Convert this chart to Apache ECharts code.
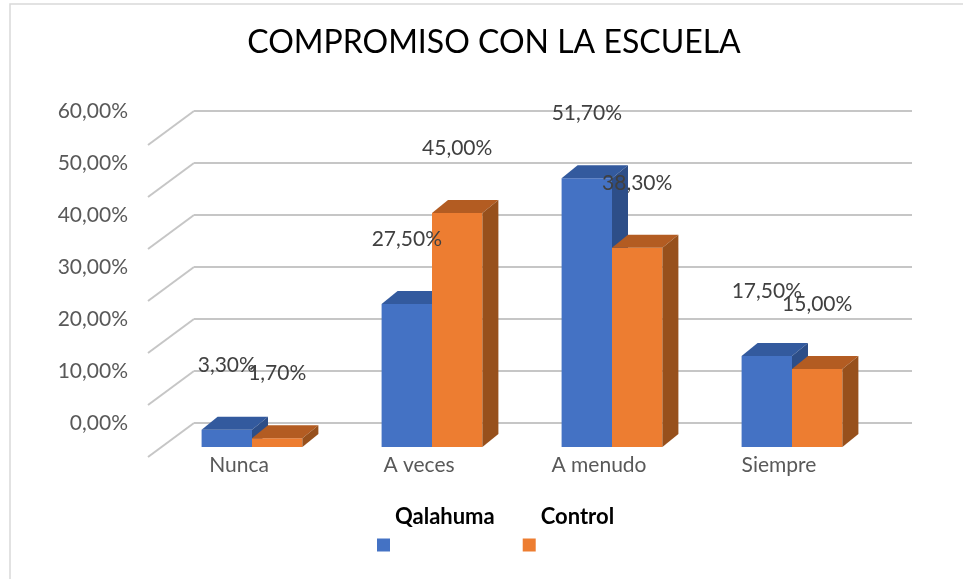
<!DOCTYPE html>
<html>
<head>
<meta charset="utf-8">
<script src="https://cdn.jsdelivr.net/npm/echarts@6/dist/echarts.min.js"></script>
<style>
  html, body { margin: 0; padding: 0; background: #fff; }
  #chart { width: 963px; height: 579px; }
</style>
</head>
<body>
<div id="chart"></div>
<script>
// categories and values (percent)
let categories = ['Nunca', 'A veces', 'A menudo', 'Siempre']
let qalahuma = [3.3, 27.5, 51.7, 17.5]
let control = [1.7, 45.0, 38.3, 15.0]
let yTicks = [0, 10, 20, 30, 40, 50, 60]

let FONT = 'Lato, "Liberation Sans", sans-serif'
let DEPTH_X = 16
let DEPTH_Y = -13

function pct (v) {
  return v.toFixed(2).replace('.', ',') + '%'
}

/**
 * draws one 3D column: front, top and side faces plus its label
 */
function makeBar3d (colors, side) {
  return function (params, api) {
    let cat = api.value(0)
    let val = api.value(1)
    let base = api.coord([cat, 0])
    let top = api.coord([cat, val])
    let w = api.size([1, 0])[0] * 0.28
    let x0 = side === 0 ? base[0] - w : base[0]
    let x1 = x0 + w
    let yb = base[1]
    let yt = top[1]
    return {
      type: 'group',
      children: [
        {
          type: 'polygon',
          shape: {points: [[x0, yt], [x1, yt], [x1, yb], [x0, yb]]},
          style: {fill: colors[0]}
        },
        {
          type: 'polygon',
          shape: {points: [[x0, yt], [x1, yt], [x1 + DEPTH_X, yt + DEPTH_Y], [x0 + DEPTH_X, yt + DEPTH_Y]]},
          style: {fill: colors[1]}
        },
        {
          type: 'polygon',
          shape: {points: [[x1, yt], [x1 + DEPTH_X, yt + DEPTH_Y], [x1 + DEPTH_X, yb + DEPTH_Y], [x1, yb]]},
          style: {fill: colors[2]}
        },
        {
          type: 'text',
          z2: 100,
          x: (x0 + x1) / 2,
          y: yt - 65,
          style: {
            text: pct(val),
            fill: '#404040',
            font: '21px ' + FONT,
            align: 'center',
            verticalAlign: 'middle'
          }
        }
      ]
    }
  }
}

let chart = echarts.init(document.getElementById('chart'), null, {renderer: 'canvas'})

let option = {
  animation: false,
  backgroundColor: '#fff',
  title: {
    text: 'COMPROMISO CON LA ESCUELA',
    left: 489,
    textAlign: 'center',
    top: 22,
    textStyle: {fontFamily: FONT, fontSize: 32, fontWeight: 'normal', color: '#000'}
  },
  graphic: [{
    type: 'rect',
    z: -10,
    shape: {x: 10, y: 4, width: 1000, height: 1000},
    style: {fill: 'none', stroke: '#d9d9d9', lineWidth: 1.5}
  }],
  legend: {
    left: 377,
    top: 506,
    padding: 0,
    itemWidth: 13,
    itemHeight: 13,
    itemGap: 28,
    icon: 'rect',
    data: ['Qalahuma', 'Control'],
    formatter: '{n|{name}}',
    textStyle: {
      rich: {
        n: {
          fontFamily: FONT,
          fontSize: 22,
          fontWeight: 'bold',
          color: '#000',
          padding: [0, 0, 56, 0]
        }
      }
    }
  },
  grid: [
    // back wall
    {left: 194, right: 51, top: 111, height: 312},
    // front plane of the bars
    {left: 162, width: 720, top: 135, height: 312}
  ],
  xAxis: [
    {gridIndex: 0, type: 'value', min: 0, max: 1, show: false},
    {
      gridIndex: 1,
      type: 'category',
      data: categories,
      axisLine: {show: false},
      axisTick: {show: false},
      axisLabel: {
        margin: 8,
        fontFamily: FONT,
        fontSize: 21,
        color: '#595959',
        padding: [0, 26, 0, 0]
      }
    }
  ],
  yAxis: [
    {
      gridIndex: 0,
      type: 'value',
      min: 0,
      max: 60,
      interval: 10,
      axisLine: {show: false},
      axisTick: {show: false},
      axisLabel: {
        margin: 66,
        fontFamily: FONT,
        fontSize: 21,
        color: '#595959',
        formatter: pct
      },
      splitLine: {lineStyle: {color: '#c6c6c6', width: 2}}
    },
    {gridIndex: 1, type: 'value', min: 0, max: 60, show: false}
  ],
  series: [
    {
      type: 'custom',
      name: 'floor',
      xAxisIndex: 0,
      yAxisIndex: 0,
      silent: true,
      data: yTicks.map(v => [0, v]),
      renderItem: function (params, api) {
        let p = api.coord([api.value(0), api.value(1)])
        return {
          type: 'line',
          shape: {x1: p[0] - 46, y1: p[1] + 34, x2: p[0], y2: p[1]},
          style: {stroke: '#c6c6c6', lineWidth: 2}
        }
      }
    },
    {
      type: 'custom',
      name: 'Qalahuma',
      xAxisIndex: 1,
      yAxisIndex: 1,
      itemStyle: {color: '#4472C4'},
      data: qalahuma.map((v, i) => [i, v]),
      renderItem: makeBar3d(['#4472C4', '#335a9e', '#2d4e88'], 0)
    },
    {
      type: 'custom',
      name: 'Control',
      xAxisIndex: 1,
      yAxisIndex: 1,
      itemStyle: {color: '#ED7D31'},
      data: control.map((v, i) => [i, v]),
      renderItem: makeBar3d(['#ED7D31', '#b35c22', '#97501c'], 1)
    }
  ]
}

chart.setOption(option)
</script>
</body>
</html>
